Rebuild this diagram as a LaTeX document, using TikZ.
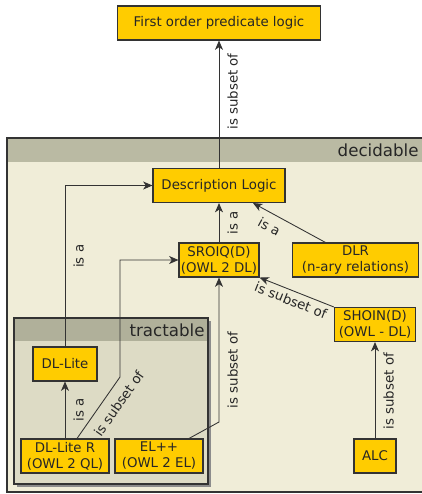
\documentclass[tikz,border=0pt]{standalone}
\usepackage{fontspec}
\setmainfont{DejaVu Sans}
\usetikzlibrary{calc,arrows.meta}
\definecolor{boxyellow}{HTML}{FFCC00}
\definecolor{decbody}{HTML}{F0EDD8}
\definecolor{dechead}{HTML}{BABAA3}
\definecolor{trbody}{HTML}{DDDBC5}
\definecolor{trhead}{HTML}{B0B09A}
\definecolor{linegray}{HTML}{333333}
\begin{document}
\begin{tikzpicture}[x=0.75pt,y=-0.75pt,line width=0.65pt,draw=linegray,
  >={Stealth[length=7pt,width=6pt,inset=2pt]},
  box/.style={draw=linegray,line width=0.8pt,fill=boxyellow,text=black!85,align=center,
    inner sep=1pt,minimum height=25.5pt,font=\fontsize{10}{12}\selectfont},
  rel/.style={sloped,below,inner sep=3pt,text=black!85,font=\fontsize{10}{12}\selectfont},
  area/.style={anchor=east,inner sep=0pt,text=black!85,font=\fontsize{12.5}{15}\selectfont}]
  \clip (0,0) rectangle (422,494);
  % decidable
  \fill[decbody] (7,138) rectangle (423,492);
  \fill[dechead] (7,138) rectangle (423,162);
  \draw[line width=0.8pt] (7,138) rectangle (423,492);
  \node[area] (dec) at (419,150) {decidable};
  % tractable
  \fill[black!45] (17,321) rectangle (211,487);
  \fill[trbody] (14,318) rectangle (208,484);
  \fill[trhead] (14,318) rectangle (208,341);
  \draw[line width=0.8pt] (14,318) rectangle (208,484);
  \node[area] (tr) at (205,330) {tractable};
  % boxes
  \node[box,minimum width=152pt] (FO) at (219,23) {First order predicate logic};
  \node[box,minimum width=99pt] (DL) at (219,185.5) {Description Logic};
  \node[box,minimum width=60pt] (SR) at (219,260) {SROIQ(D)\\(OWL 2 DL)};
  \node[box,minimum width=94pt] (DLR) at (355.5,260) {DLR\\(n-ary relations)};
  \node[box,minimum width=61pt] (SH) at (375,324.5) {SHOIN(D)\\(OWL - DL)};
  \node[box,minimum width=48pt] (DLL) at (65,364) {DL-Lite};
  \node[box,minimum width=66pt] (DLLR) at (65,456) {DL-Lite R\\(OWL 2 QL)};
  \node[box,minimum width=66pt] (EL) at (159,456) {EL++\\(OWL 2 EL)};
  \node[box,minimum width=31.5pt] (ALC) at (375,456) {ALC};
  \coordinate (k1) at (120,377);
  \coordinate (k2) at (219,422);
  % arrows
  \draw[->] (DL) -- node[rel,below=3pt,pos=.6]{is subset of} (FO);
  \draw[->] (SR) -- node[rel,below=3pt]{is a} (DL);
  \draw[->] ($(DLR.north)+(-30,0)$) -- node[rel,below=2.5pt,pos=.69]{is a} ($(DL.south)+(34,0)$);
  \draw[->] (SH.north west) -- node[rel,pos=.53]{is subset of} (SR.south east);
  \draw[->] (DLL) |- node[rel,below=3pt,pos=.28]{is a} (DL);
  \draw[->] ($(DLLR.north)+(12,0)$) -- node[rel,below=3.5pt,pos=.7]{is subset of} (k1) |- (SR);
  \draw[->] ($(EL.north)+(30,0)$) -- (k2) -- node[rel,below=3pt,pos=.36]{is subset of} (SR);
  \draw[->] (ALC) -- node[rel,below=3pt,pos=.49]{is subset of} (SH);
  \draw[->] (DLLR) -- node[rel,below=3pt]{is a} (DLL);
\end{tikzpicture}
\end{document}
